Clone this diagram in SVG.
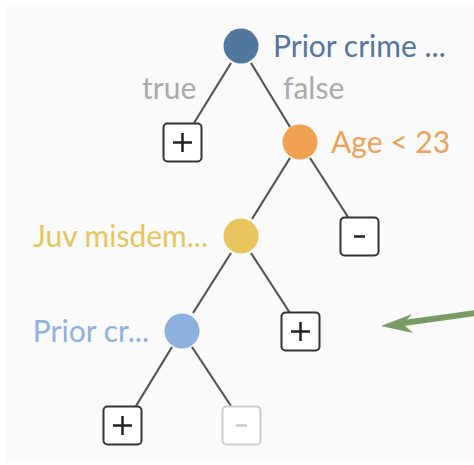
<svg xmlns="http://www.w3.org/2000/svg" width="474" height="465" viewBox="0 0 474 465">
<style>
.edge{stroke:#555;stroke-width:2.2;fill:none}
.box{fill:#fff;stroke:#333;stroke-width:2}
.sym{stroke:#222;stroke-width:2.5;stroke-linecap:butt}
.lbl{font-family:Lato,"Liberation Sans",sans-serif;font-size:30px;dominant-baseline:central}
.tf{font-family:Lato,"Liberation Sans",sans-serif;font-size:30px;fill:#aaa}
</style>
<rect x="0" y="0" width="474" height="465" fill="#ffffff"/>
<rect x="6" y="6" width="468" height="457" fill="#fafafa"/>
<g id="connectors">
<line class="edge" x1="231" y1="63" x2="194" y2="123"/>
<line class="edge" x1="251" y1="63" x2="290" y2="127"/>
<line class="edge" x1="290" y1="158" x2="252" y2="219"/>
<line class="edge" x1="310" y1="158" x2="348" y2="217"/>
<line class="edge" x1="231" y1="253" x2="193" y2="313"/>
<line class="edge" x1="251" y1="253" x2="290" y2="313"/>
<line class="edge" x1="172" y1="347" x2="136" y2="406"/>
<line class="edge" x1="192" y1="347" x2="231" y2="406"/>
<text class="tf" x="142" y="99">true</text>
<text class="tf" x="283" y="99">false</text>
</g>
<g id="root">
<circle cx="241" cy="46" r="17.5" fill="#52779f"/>
<text class="lbl" x="273" y="45" fill="#52779f">Prior crime ...</text>
</g>
<g id="leaf-true">
<rect class="box" x="163.5" y="123.5" width="38" height="38" rx="4"/>
<line class="sym" x1="173" y1="142.5" x2="192" y2="142.5"/>
<line class="sym" x1="182.5" y1="133" x2="182.5" y2="152"/>
</g>
<g id="age">
<circle cx="300" cy="142" r="17.5" fill="#f0a152"/>
<text class="lbl" x="331" y="141" fill="#f0a152">Age &lt; 23</text>
</g>
<g id="leaf-age-minus">
<rect class="box" x="340.5" y="217.5" width="38" height="38" rx="4"/>
<line class="sym" x1="354" y1="236.5" x2="365" y2="236.5"/>
</g>
<g id="juv">
<circle cx="241" cy="236" r="17.5" fill="#e8c55c"/>
<text class="lbl" x="208" y="235" fill="#e8c55c" text-anchor="end">Juv misdem...</text>
</g>
<g id="leaf-juv-plus">
<rect class="box" x="281.5" y="312.5" width="38" height="38" rx="4"/>
<line class="sym" x1="291" y1="331.5" x2="310" y2="331.5"/>
<line class="sym" x1="300.5" y1="322" x2="300.5" y2="341"/>
</g>
<g id="prior2">
<circle cx="182" cy="331" r="17.5" fill="#8db1df"/>
<text class="lbl" x="149" y="330" fill="#8db1df" text-anchor="end">Prior cr...</text>
</g>
<g id="leaf-bottom-plus">
<rect class="box" x="103.5" y="406.5" width="38" height="38" rx="4"/>
<line class="sym" x1="113" y1="425.5" x2="132" y2="425.5"/>
<line class="sym" x1="122.5" y1="416" x2="122.5" y2="435"/>
</g>
<g id="leaf-bottom-minus">
<rect x="222.5" y="406.5" width="38" height="38" rx="4" fill="#fff" stroke="#ccc" stroke-width="2"/>
<line x1="236" y1="425.5" x2="247" y2="425.5" stroke="#ccc" stroke-width="2.5"/>
</g>
<g id="arrow">
<line x1="400" y1="323.5" x2="476" y2="313" stroke="#789c63" stroke-width="6"/>
<polygon points="381,326 412,314 403,324 413,333" fill="#789c63"/>
</g>
</svg>
